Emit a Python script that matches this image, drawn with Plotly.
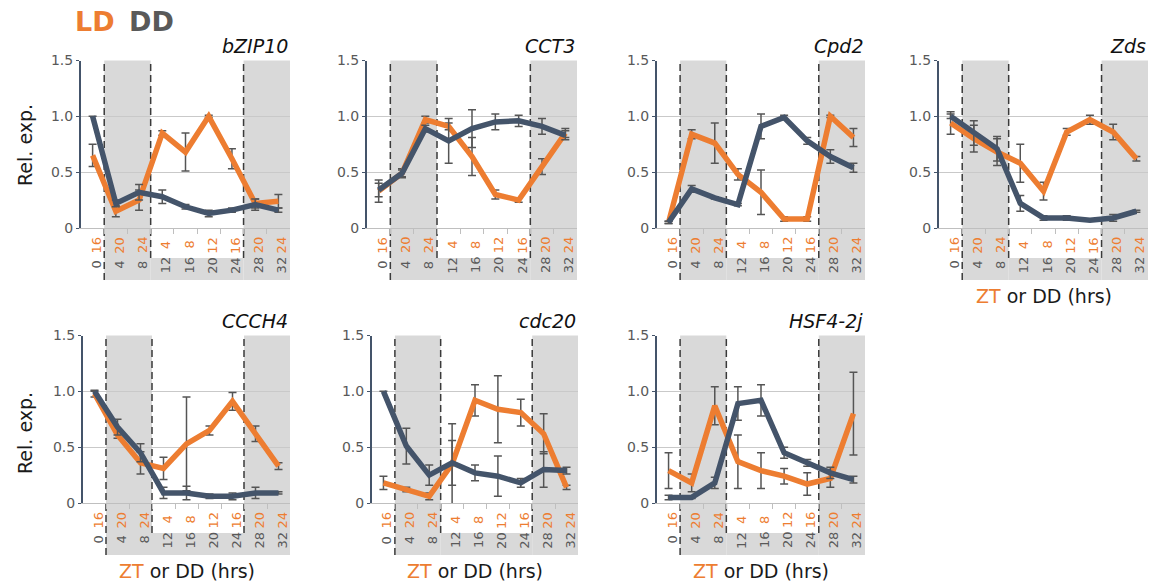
import plotly.graph_objects as go

W, H = 1152, 587
ORANGE = "#ED7D31"
NAVY = "#44546A"
GRAYTXT = "#595959"
FONT = "DejaVu Sans"

# ---- categories / tick labels ----
dd_hours = [0, 4, 8, 12, 16, 20, 24, 28, 32]
ld_zt = [16, 20, 24, 4, 8, 12, 16, 20, 24]
y_ticks = [0, 0.5, 1.0, 1.5]
y_ticklabels = ["0", "0.5", "1.0", "1.5"]

genes = ["bZIP10", "CCT3", "Cpd2", "Zds", "CCCH4", "cdc20", "HSF4-2j"]

# ---- series values (LD = orange, DD = dark) ----
bzip10_ld = [0.65, 0.15, 0.25, 0.85, 0.68, 1.00, 0.62, 0.22, 0.24]
bzip10_ld_err = [0.10, 0.05, 0.09, 0.02, 0.17, 0.01, 0.09, 0.04, 0.06]
bzip10_dd = [1.00, 0.22, 0.32, 0.28, 0.19, 0.13, 0.16, 0.21, 0.16]
bzip10_dd_err = [0.00, 0.03, 0.07, 0.06, 0.02, 0.03, 0.02, 0.05, 0.02]

cct3_ld = [0.33, 0.49, 0.97, 0.91, 0.64, 0.30, 0.25, 0.55, 0.85]
cct3_ld_err = [0.10, 0.04, 0.03, 0.03, 0.17, 0.04, 0.02, 0.07, 0.04]
cct3_dd = [0.34, 0.49, 0.89, 0.78, 0.89, 0.95, 0.96, 0.91, 0.83]
cct3_dd_err = [0.06, 0.03, 0.03, 0.20, 0.17, 0.07, 0.05, 0.07, 0.04]

cpd2_ld = [0.05, 0.84, 0.76, 0.48, 0.32, 0.08, 0.08, 1.00, 0.81]
cpd2_ld_err = [0.01, 0.04, 0.18, 0.05, 0.20, 0.02, 0.02, 0.01, 0.08]
cpd2_dd = [0.05, 0.35, 0.27, 0.21, 0.91, 0.99, 0.78, 0.64, 0.54]
cpd2_dd_err = [0.01, 0.03, 0.01, 0.01, 0.11, 0.02, 0.03, 0.06, 0.04]

zds_ld = [0.94, 0.80, 0.68, 0.58, 0.33, 0.86, 0.97, 0.86, 0.62]
zds_ld_err = [0.10, 0.12, 0.12, 0.17, 0.08, 0.03, 0.04, 0.07, 0.02]
zds_dd = [1.00, 0.85, 0.71, 0.22, 0.09, 0.09, 0.07, 0.09, 0.15]
zds_dd_err = [0.02, 0.11, 0.11, 0.07, 0.02, 0.02, 0.01, 0.03, 0.01]

ccch4_ld = [0.98, 0.61, 0.36, 0.31, 0.53, 0.65, 0.91, 0.62, 0.33]
ccch4_ld_err = [0.03, 0.03, 0.10, 0.10, 0.42, 0.04, 0.08, 0.07, 0.03]
ccch4_dd = [1.00, 0.68, 0.45, 0.09, 0.09, 0.06, 0.06, 0.09, 0.09]
ccch4_dd_err = [0.00, 0.07, 0.08, 0.05, 0.06, 0.02, 0.03, 0.05, 0.01]

cdc20_ld = [0.18, 0.12, 0.06, 0.35, 0.92, 0.84, 0.81, 0.62, 0.14]
cdc20_ld_err = [0.06, 0.02, 0.03, 0.36, 0.14, 0.30, 0.12, 0.18, 0.02]
cdc20_dd = [1.00, 0.51, 0.25, 0.36, 0.27, 0.24, 0.18, 0.30, 0.29]
cdc20_dd_err = [0.00, 0.16, 0.09, 0.20, 0.07, 0.18, 0.04, 0.16, 0.03]

hsf_ld = [0.29, 0.18, 0.87, 0.37, 0.29, 0.24, 0.17, 0.22, 0.80]
hsf_ld_err = [0.16, 0.08, 0.17, 0.24, 0.16, 0.07, 0.10, 0.08, 0.37]
hsf_dd = [0.05, 0.05, 0.18, 0.89, 0.92, 0.45, 0.36, 0.27, 0.21]
hsf_dd_err = [0.02, 0.01, 0.05, 0.15, 0.14, 0.05, 0.03, 0.05, 0.03]

series = [
    (bzip10_ld, bzip10_ld_err, bzip10_dd, bzip10_dd_err),
    (cct3_ld, cct3_ld_err, cct3_dd, cct3_dd_err),
    (cpd2_ld, cpd2_ld_err, cpd2_dd, cpd2_dd_err),
    (zds_ld, zds_ld_err, zds_dd, zds_dd_err),
    (ccch4_ld, ccch4_ld_err, ccch4_dd, ccch4_dd_err),
    (cdc20_ld, cdc20_ld_err, cdc20_dd, cdc20_dd_err),
    (hsf_ld, hsf_ld_err, hsf_dd, hsf_dd_err),
]

# ---- layout geometry (pixels) ----
rows_px = [(60.5, 228.0), (335.5, 503.0)]
cols_px = [(81, 290), (367, 577), (657, 865), (939, 1148),
           (83, 290), (372, 578), (657, 865)]
panel_row = [0, 0, 0, 0, 1, 1, 1]
xlabel_panels = [3, 4, 5, 6]

XMIN, XMAX = -0.5, len(dd_hours) - 0.5


def px_x(p):
    return p / W


def px_y(p):
    return 1 - p / H


fig = go.Figure()
shapes = []
annotations = []

x_idx = list(range(len(dd_hours)))
dark_ld = [z > 16 for z in ld_zt]
dark_dd = [h > 0 for h in dd_hours]


def runs(flags):
    out, start = [], None
    for i, f in enumerate(flags + [False]):
        if f and start is None:
            start = i
        elif not f and start is not None:
            out.append((start - 0.5, i - 0.5))
            start = None
    return out


for n, gene in enumerate(genes):
    k = n + 1
    xa = "x" if k == 1 else f"x{k}"
    ya = "y" if k == 1 else f"y{k}"
    xl = "xaxis" if k == 1 else f"xaxis{k}"
    yl = "yaxis" if k == 1 else f"yaxis{k}"
    top, bot = rows_px[panel_row[n]]
    x0p, x1p = cols_px[n]
    dom_x = [px_x(x0p), px_x(x1p)]
    dom_y = [px_y(bot), px_y(top)]

    ld, ld_err, dd, dd_err = series[n]

    fig.add_trace(go.Scatter(
        x=x_idx, y=ld, mode="lines", xaxis=xa, yaxis=ya,
        line=dict(color=ORANGE, width=5.5),
        error_y=dict(type="data", array=ld_err, visible=True,
                     color="#555555", thickness=1.5, width=4),
        showlegend=False, hoverinfo="skip"))
    fig.add_trace(go.Scatter(
        x=x_idx, y=dd, mode="lines", xaxis=xa, yaxis=ya,
        line=dict(color=NAVY, width=5.5),
        error_y=dict(type="data", array=dd_err, visible=True,
                     color="#555555", thickness=1.5, width=4),
        showlegend=False, hoverinfo="skip"))

    fig.update_layout(**{
        xl: dict(domain=dom_x, anchor=ya, range=[XMIN, XMAX],
                 tickvals=[i + 0.5 for i in x_idx[:-1]],
                 ticktext=["" for _ in x_idx[:-1]],
                 ticks="outside", ticklen=5, tickcolor="#BFBFBF",
                 showline=True, linecolor="#BFBFBF", linewidth=1,
                 showgrid=False, zeroline=False, fixedrange=True,
                 automargin=False),
        yl: dict(domain=dom_y, anchor=xa, range=[0, 1.5],
                 tickvals=y_ticks, ticktext=y_ticklabels,
                 tickfont=dict(family=FONT, size=14, color=GRAYTXT),
                 ticks="outside", ticklen=3, tickcolor=NAVY,
                 showline=True, linecolor=NAVY, linewidth=2,
                 showgrid=True, gridcolor="#C9C9C9", gridwidth=1,
                 zeroline=False, fixedrange=True, automargin=False),
    })

    def cx(v):
        return dom_x[0] + (v - XMIN) / (XMAX - XMIN) * (dom_x[1] - dom_x[0])

    white_bot = bot + 30
    gray_bot = bot + 52
    # LD dark periods (full height incl. label rows)
    for a, b in runs(dark_ld):
        shapes.append(dict(type="rect", xref="paper", yref="paper",
                           x0=cx(a), x1=cx(b), y0=px_y(gray_bot), y1=px_y(top),
                           fillcolor="#D9D9D9", line=dict(width=0), layer="below"))
    # DD constant dark (lower label row only)
    dd_only = [d and not l for d, l in zip(dark_dd, dark_ld)]
    for a, b in runs(dd_only):
        shapes.append(dict(type="rect", xref="paper", yref="paper",
                           x0=cx(a), x1=cx(b), y0=px_y(gray_bot), y1=px_y(white_bot),
                           fillcolor="#D9D9D9", line=dict(width=0), layer="below"))
    # dashed transitions
    for i in range(1, len(x_idx)):
        if dark_ld[i] != dark_ld[i - 1]:
            b = i - 0.5
            lower = gray_bot if dark_dd[i] != dark_dd[i - 1] else white_bot
            shapes.append(dict(type="line", xref="paper", yref="paper",
                               x0=cx(b), x1=cx(b), y0=px_y(lower), y1=px_y(top),
                               line=dict(color="#3A3A3A", width=1.5, dash="7px,4px"),
                               layer="below"))

    # x tick labels (two rows, rotated)
    for i in x_idx:
        annotations.append(dict(xref=xa, yref="paper", x=i, xshift=3,
                                y=px_y(bot + 17), text=str(ld_zt[i]),
                                textangle=-90, showarrow=False,
                                xanchor="center", yanchor="middle",
                                font=dict(family=FONT, size=13, color=ORANGE)))
        annotations.append(dict(xref=xa, yref="paper", x=i, xshift=3,
                                y=px_y(bot + 37), text=str(dd_hours[i]),
                                textangle=-90, showarrow=False,
                                xanchor="center", yanchor="middle",
                                font=dict(family=FONT, size=13, color=GRAYTXT)))

    # gene title
    annotations.append(dict(xref="paper", yref="paper", x=dom_x[1], y=px_y(top - 15),
                            text=f"<i>{gene}</i>", showarrow=False,
                            xanchor="right", yanchor="middle",
                            font=dict(family=FONT, size=19, color="#111111")))

    if n in xlabel_panels:
        annotations.append(dict(xref="paper", yref="paper",
                                x=(dom_x[0] + dom_x[1]) / 2, y=px_y(gray_bot + 16),
                                text=f'<span style="color:{ORANGE}">ZT</span> or DD (hrs)',
                                showarrow=False, xanchor="center", yanchor="middle",
                                font=dict(family=FONT, size=19, color="#1A1A1A")))

# Y-axis titles
for (top, bot), yc in zip(rows_px, [145, 433]):
    annotations.append(dict(xref="paper", yref="paper", x=px_x(25), y=px_y(yc),
                            text="Rel. exp.", textangle=-90, showarrow=False,
                            xanchor="center", yanchor="middle",
                            font=dict(family=FONT, size=19, color="#1A1A1A")))

# LD / DD header
annotations.append(dict(xref="paper", yref="paper", x=px_x(73), y=px_y(21),
                        text="<b>LD</b>", showarrow=False, xanchor="left", yanchor="middle",
                        font=dict(family=FONT, size=27, color=ORANGE)))
annotations.append(dict(xref="paper", yref="paper", x=px_x(127), y=px_y(21),
                        text="<b>DD</b>", showarrow=False, xanchor="left", yanchor="middle",
                        font=dict(family=FONT, size=27, color="#595959")))

fig.update_layout(width=W, height=H, margin=dict(l=0, r=0, t=0, b=0, autoexpand=False),
                  paper_bgcolor="white", plot_bgcolor="rgba(0,0,0,0)",
                  shapes=shapes, annotations=annotations,
                  font=dict(family=FONT))

fig.write_html(
    "out.html",
    config={"displayModeBar": False},
    post_script="document.body.style.margin='0';document.body.style.overflow='hidden';",
)
